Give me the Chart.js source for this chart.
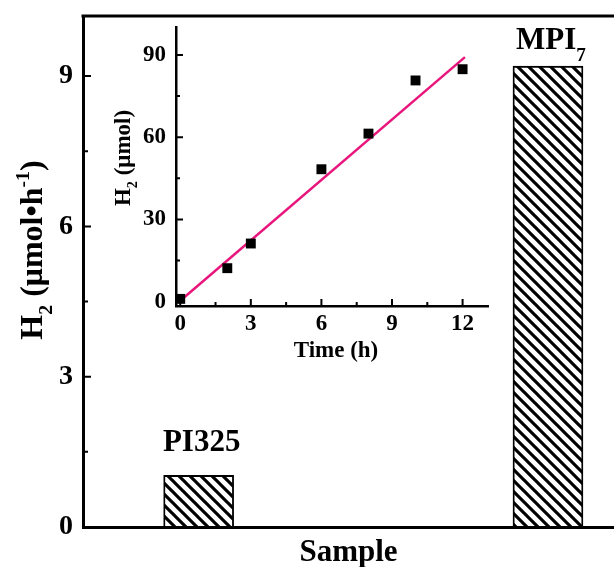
<!DOCTYPE html>
<html>
<head>
<meta charset="utf-8">
<script src="https://cdn.jsdelivr.net/npm/chart.js@4"></script>
<style>
  html, body { margin: 0; padding: 0; background: #fff; overflow: hidden; }
  #wrap { position: relative; width: 614px; height: 567px; }
  #mainChart { position: absolute; left: 0; top: 0; }
  #insetChart { position: absolute; left: 100px; top: 10px; }
</style>
</head>
<body>
<div id="wrap">
  <canvas id="mainChart" width="614" height="567"></canvas>
  <canvas id="insetChart" width="400" height="360"></canvas>
</div>
<script>
"use strict";

// main bars
const samples = ["PI325", "MPI"];
const sampleSubs = ["", "7"];
const samplePos = [1, 2];
const rates = [1.03, 9.2];
const rateTicks = [0, 3, 6, 9];

// inset: H2 evolved vs time
const times = [0, 2, 3, 6, 8, 10, 12];
const amounts = [1, 12.2, 21.2, 48.3, 61.3, 80.7, 84.8];
const fitTimes = [0, 12.1];
const fitAmounts = [0.3, 89.2];
const timeTicks = [0, 3, 6, 9, 12];
const amountTicks = [0, 30, 60, 90];

const serif = "'Liberation Serif', 'Times New Roman', serif";

// draws text made of normal / sub / sup pieces
function drawRich(ctx, parts, x, y, size, subDrop = 0.3) {
  const sz = k => (k ? size * 0.62 : size);
  let w = 0;
  for (const [t, k] of parts) {
    ctx.font = `bold ${sz(k)}px ${serif}`;
    w += ctx.measureText(t).width;
  }
  let cx = x - w / 2;
  ctx.textAlign = "left";
  ctx.textBaseline = "alphabetic";
  for (const [t, k] of parts) {
    ctx.font = `bold ${sz(k)}px ${serif}`;
    const dy = k === "sub" ? size * subDrop : k === "sup" ? -size * 0.42 : 0;
    ctx.fillText(t, cx, y + dy);
    cx += ctx.measureText(t).width;
  }
}

function hatch() {
  const c = document.createElement("canvas");
  c.width = 11;
  c.height = 11;
  const g = c.getContext("2d");
  g.strokeStyle = "#000";
  g.lineWidth = 3.1;
  for (const o of [-11, 0, 11]) {
    g.beginPath();
    g.moveTo(o - 2, -2);
    g.lineTo(o + 13, 13);
    g.stroke();
  }
  return g.createPattern(c, "repeat");
}

function inwardTicks(ctx, scale, area, vertical, major, minor) {
  const vals = scale.ticks.map(t => t.value);
  const step = vals[1] - vals[0];
  const all = [];
  vals.forEach(v => all.push([v, major]));
  for (let v = vals[0] + step / 2; v < scale.max; v += step) all.push([v, minor]);
  ctx.beginPath();
  for (const [v, len] of all) {
    if (v < scale.min || v > scale.max) continue;
    const p = scale.getPixelForValue(v);
    if (vertical) {
      ctx.moveTo(area.left, p);
      ctx.lineTo(area.left + len, p);
    } else {
      ctx.moveTo(p, area.bottom);
      ctx.lineTo(p, area.bottom - len);
    }
  }
  ctx.stroke();
}

const mainDecor = {
  id: "mainDecor",
  afterDraw(chart) {
    const { ctx, chartArea: a, scales: { y } } = chart;
    ctx.save();
    ctx.strokeStyle = "#000";
    ctx.fillStyle = "#000";
    ctx.lineWidth = 3;
    ctx.beginPath();
    ctx.moveTo(a.left - 1.5, a.top);
    ctx.lineTo(a.right, a.top);
    ctx.stroke();
    ctx.lineWidth = 2;
    inwardTicks(ctx, y, a, true, 8, 5);

    // labels above bars
    const lift = [24, 17];
    chart.getDatasetMeta(0).data.forEach((bar, i) => {
      const parts = [[samples[i], ""]];
      if (sampleSubs[i]) parts.push([sampleSubs[i], "sub"]);
      drawRich(ctx, parts, bar.x + 3, bar.y - lift[i], 31, 0.38);
    });

    // axis titles
    ctx.textAlign = "center";
    ctx.font = `bold 31px ${serif}`;
    ctx.fillText("Sample", (a.left + a.right) / 2, 561);
    ctx.translate(42, 250);
    ctx.rotate(-Math.PI / 2);
    drawRich(ctx, [["H", ""], ["2", "sub"], [" (μmol•h", ""], ["-1", "sup"], [")", ""]], 0, 0, 32);
    ctx.restore();
  }
};

const insetDecor = {
  id: "insetDecor",
  afterDraw(chart) {
    const { ctx, chartArea: a, scales: { x, y } } = chart;
    ctx.save();
    ctx.strokeStyle = "#000";
    ctx.fillStyle = "#000";
    ctx.lineWidth = 2;
    inwardTicks(ctx, y, a, true, 7, 4);
    inwardTicks(ctx, x, a, false, 7, 4);
    ctx.font = `bold 23px ${serif}`;
    ctx.textAlign = "center";
    ctx.fillText("Time (h)", (a.left + a.right) / 2 + 4, 347);
    ctx.translate(30, 148);
    ctx.rotate(-Math.PI / 2);
    drawRich(ctx, [["H", ""], ["2", "sub"], [" (μmol)", ""]], 0, 0, 23);
    ctx.restore();
  }
};

const noPad = s => { s.paddingTop = 0; s.paddingBottom = 0; s.paddingLeft = 0; s.paddingRight = 0; };

new Chart(document.getElementById("mainChart"), {
  type: "bar",
  data: {
    datasets: [{
      data: samplePos.map((p, i) => ({ x: p, y: rates[i] })),
      backgroundColor: hatch(),
      borderColor: "#000",
      borderWidth: 1.2,
      barThickness: 70,
    }],
  },
  options: {
    responsive: false,
    animation: false,
    layout: { padding: { top: 16, right: 0, bottom: 0, left: 0 } },
    plugins: { legend: { display: false }, tooltip: { enabled: false } },
    scales: {
      x: {
        type: "linear",
        offset: false,
        min: 0.669,
        max: 2.189,
        grid: { display: false, drawTicks: false, offset: false },
        border: { display: true, width: 3, color: "#000" },
        ticks: { display: false },
        afterFit: s => { s.height = 40; noPad(s); },
      },
      y: {
        min: 0,
        max: 10.2,
        grid: { display: false, drawTicks: false },
        border: { display: true, width: 3, color: "#000" },
        afterBuildTicks: s => { s.ticks = rateTicks.map(v => ({ value: v })); },
        ticks: {
          color: "#000",
          padding: 10,
          font: { family: serif, size: 28, weight: "bold" },
        },
        afterFit: s => { s.width = 83; noPad(s); },
      },
    },
  },
  plugins: [mainDecor],
});

new Chart(document.getElementById("insetChart"), {
  type: "scatter",
  data: {
    datasets: [
      {
        data: times.map((t, i) => ({ x: t, y: amounts[i] })),
        pointStyle: "rect",
        pointRadius: 7,
        pointBorderWidth: 0,
        backgroundColor: "#000",
        clip: false,
      },
      {
        data: fitTimes.map((t, i) => ({ x: t, y: fitAmounts[i] })),
        showLine: true,
        pointRadius: 0,
        borderColor: "#e8167c",
        borderWidth: 2.5,
      },
    ],
  },
  options: {
    responsive: false,
    animation: false,
    layout: { padding: { top: 17, right: 12, bottom: 0, left: 0 } },
    plugins: { legend: { display: false }, tooltip: { enabled: false } },
    scales: {
      x: {
        type: "linear",
        min: -0.18,
        max: 13.08,
        grid: { display: false, drawTicks: false },
        border: { display: true, width: 2.5, color: "#000" },
        afterBuildTicks: s => { s.ticks = timeTicks.map(v => ({ value: v })); },
        ticks: {
          color: "#000",
          padding: 4,
          maxRotation: 0,
          font: { family: serif, size: 23, weight: "bold" },
        },
        afterFit: s => { s.height = 64; noPad(s); },
      },
      y: {
        min: -1.6,
        max: 100.2,
        grid: { display: false, drawTicks: false },
        border: { display: true, width: 2.5, color: "#000" },
        afterBuildTicks: s => { s.ticks = amountTicks.map(v => ({ value: v })); },
        ticks: {
          color: "#000",
          padding: 10,
          font: { family: serif, size: 23, weight: "bold" },
        },
        afterFit: s => { s.width = 76; noPad(s); },
      },
    },
  },
  plugins: [insetDecor],
});
</script>
</body>
</html>
